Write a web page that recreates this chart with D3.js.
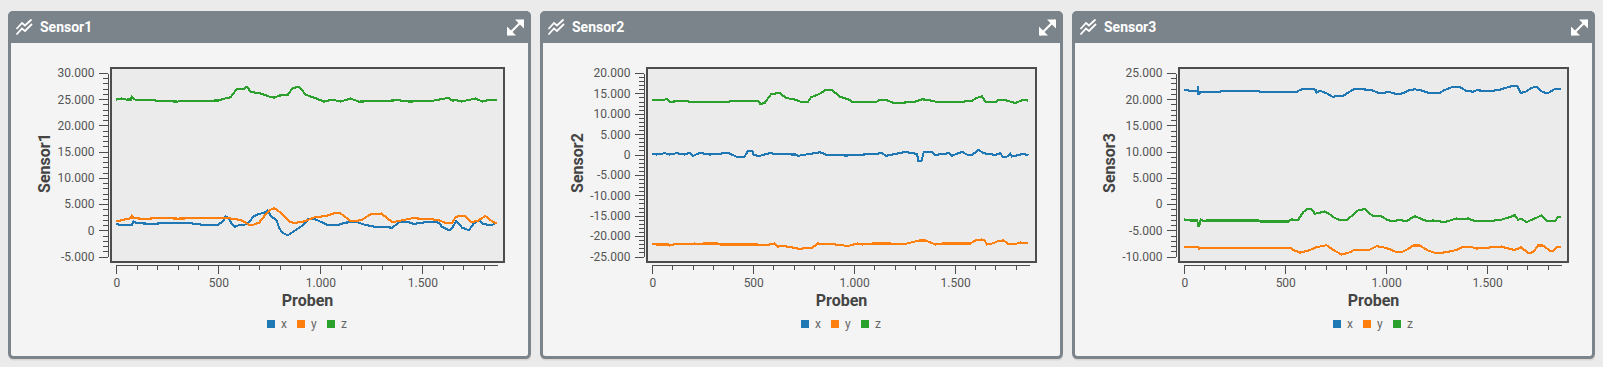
<!DOCTYPE html>
<html>
<head>
<meta charset="utf-8">
<script src="https://cdn.jsdelivr.net/npm/d3@7"></script>
<style>
    html, body { margin: 0; padding: 0; background: #ebebeb; overflow: hidden; }
    text { font-family: Roboto, sans-serif; }
</style>
</head>
<body>
<svg id="dashboard"></svg>
<script>
// values as [probe, value]
const seriesNames = ['x', 'y', 'z'];
const seriesColors = ['#1f77b4', '#ff7f0e', '#2ca02c'];

const sensor1X = [[0,1150],[25,1020],[50,1085],[75,960],[85,1720],[100,1340],[150,1275],[200,1275],[250,1470],[300,1470],[350,1400],[400,1150],[450,960],[500,1085],[525,1800],[536,2680],[550,2360],[565,1300],[580,640],[600,960],[625,960],[650,1600],[675,2680],[700,3130],[725,3320],[740,3700],[760,2680],[785,1900],[800,320],[816,-510],[840,-960],[865,-320],[890,320],[915,960],[940,2100],[962,2230],[987,1900],[1010,1470],[1036,1020],[1093,1085],[1125,1470],[1175,1600],[1215,1085],[1272,640],[1353,510],[1386,1530],[1427,1600],[1460,1210],[1524,1600],[1580,1470],[1597,640],[1630,0],[1645,320],[1665,1720],[1695,510],[1728,0],[1752,1275],[1777,1900],[1800,1150],[1842,1020],[1866,1470]];
const sensor1Y = [[0,1720],[25,1910],[60,2230],[74,2300],[75,2740],[85,2300],[150,2170],[200,2360],[300,2230],[400,2300],[500,2360],[540,2360],[590,2100],[620,1790],[650,1085],[670,1020],[700,1470],[725,2680],[750,3830],[775,4200],[800,3510],[825,2550],[850,1600],[875,1400],[925,1720],[975,2550],[1025,2680],[1075,3320],[1100,3190],[1150,1720],[1200,1915],[1250,3130],[1300,3190],[1353,1530],[1402,1915],[1451,2300],[1549,2100],[1581,1915],[1614,1400],[1647,1400],[1663,2550],[1695,2800],[1712,2680],[1736,1600],[1769,1720],[1809,2740],[1834,1915],[1858,1400],[1866,1400]];
const sensor1Z = [[0,24930],[25,25130],[50,24930],[74,24950],[75,25500],[85,25000],[100,24870],[150,24930],[175,24800],[250,24600],[300,24550],[325,24700],[500,24750],[525,25060],[560,25380],[590,26900],[625,27000],[640,27400],[660,26340],[700,26200],[750,25500],[775,25300],[800,25700],[840,25800],[865,27170],[897,27300],[930,25830],[977,25190],[1018,24550],[1058,24940],[1099,24550],[1148,25130],[1189,24550],[1270,24620],[1384,24800],[1433,24550],[1547,24680],[1628,25250],[1650,24680],[1660,24870],[1690,24550],[1761,25130],[1794,24550],[1827,24870],[1866,24930]];

const sensor2X = [[0,164],[21,0],[62,328],[87,0],[120,328],[161,0],[186,492],[202,-328],[235,410],[285,0],[375,410],[416,-492],[457,-492],[474,902],[495,902],[502,-164],[531,-328],[581,328],[630,82],[712,0],[720,-328],[831,574],[860,0],[959,-246],[1074,82],[1140,328],[1156,-328],[1255,656],[1288,328],[1312,164],[1317,-1476],[1334,-1476],[1345,656],[1383,656],[1400,-82],[1469,328],[1482,-328],[1534,656],[1559,0],[1584,-82],[1617,1148],[1641,328],[1699,-82],[1724,328],[1735,-492],[1757,-492],[1773,164],[1781,-492],[1839,164],[1863,-246]];
const sensor2Y = [[0,-21812],[21,-22058],[79,-22058],[87,-22304],[104,-22058],[211,-21812],[227,-22058],[252,-21812],[326,-21812],[337,-22058],[523,-22058],[548,-22222],[581,-22058],[605,-21812],[622,-22550],[655,-22468],[696,-22796],[729,-23124],[794,-22796],[819,-21812],[877,-21894],[942,-22222],[967,-22468],[1016,-21812],[1041,-22058],[1090,-21812],[1181,-21812],[1206,-21976],[1255,-21894],[1288,-21484],[1321,-21074],[1354,-21074],[1378,-21566],[1403,-22058],[1436,-21812],[1576,-21812],[1600,-21074],[1633,-20828],[1646,-21074],[1658,-22058],[1691,-21730],[1715,-21156],[1740,-21074],[1765,-21976],[1798,-21976],[1822,-21566],[1863,-21730]];
const sensor2Z = [[0,13450],[54,13280],[71,13700],[84,12950],[153,13120],[210,12870],[252,12800],[367,12870],[400,13200],[523,13200],[536,12380],[556,12630],[589,14840],[630,15090],[663,13860],[712,13450],[737,12870],[770,12870],[786,14020],[827,14840],[860,15900],[893,15740],[926,14270],[975,13450],[992,12800],[1107,12870],[1123,13280],[1164,13280],[1197,12630],[1296,12870],[1337,13530],[1362,13450],[1419,12800],[1510,12800],[1551,13040],[1584,13200],[1609,13940],[1633,14270],[1653,12800],[1699,12800],[1715,13450],[1748,13370],[1797,12630],[1839,13450],[1863,13200]];

const sensor3X = [[0,21760],[53,21500],[66,21500],[68,22530],[70,21000],[74,21000],[78,21370],[177,21440],[193,21630],[251,21630],[366,21630],[375,21370],[556,21370],[573,21760],[597,22010],[622,21950],[650,21820],[655,21240],[672,21630],[705,21120],[733,20480],[787,20670],[820,21440],[845,22010],[861,21880],[886,21880],[927,21760],[960,21240],[985,21120],[1010,21440],[1051,20990],[1084,21120],[1117,21760],[1142,21880],[1167,21760],[1208,21240],[1266,21240],[1290,21760],[1323,22270],[1365,22330],[1398,21560],[1431,21440],[1447,21690],[1521,21560],[1563,21820],[1596,22200],[1629,22590],[1649,22590],[1665,21240],[1686,21310],[1719,22140],[1744,22400],[1777,21310],[1802,21180],[1835,21950],[1865,21950]];
const sensor3Y = [[0,-8103],[69,-8103],[73,-8549],[86,-8294],[523,-8294],[540,-8741],[573,-9251],[614,-8868],[655,-8230],[705,-7847],[738,-8741],[779,-9634],[820,-9187],[845,-8677],[919,-8677],[952,-8039],[985,-8230],[1018,-8613],[1051,-9187],[1076,-9187],[1109,-8549],[1134,-7911],[1167,-7911],[1208,-8868],[1249,-9379],[1299,-9187],[1348,-8741],[1381,-8103],[1414,-8103],[1447,-8485],[1488,-8358],[1571,-8103],[1612,-8549],[1637,-8741],[1670,-8230],[1703,-9379],[1728,-9187],[1752,-7911],[1777,-7911],[1810,-8868],[1827,-8868],[1851,-8103],[1865,-8103]];
const sensor3Z = [[0,-2935],[28,-3126],[64,-3126],[69,-4083],[74,-4083],[81,-2935],[94,-3254],[111,-3126],[366,-3126],[375,-3318],[515,-3318],[531,-2935],[564,-2999],[589,-1531],[606,-1021],[631,-1021],[647,-1850],[696,-1404],[721,-1978],[746,-2680],[771,-3062],[804,-3062],[828,-2297],[861,-1212],[894,-957],[919,-1850],[936,-2233],[977,-2361],[1002,-2935],[1026,-3254],[1068,-3062],[1101,-3254],[1142,-2297],[1183,-2999],[1208,-3254],[1233,-3126],[1290,-3445],[1348,-2743],[1373,-2871],[1406,-2743],[1439,-3254],[1497,-3254],[1563,-3062],[1612,-2488],[1637,-2105],[1653,-2999],[1670,-2807],[1695,-3445],[1736,-2743],[1769,-2169],[1794,-3126],[1835,-3318],[1851,-2488],[1865,-2488]];

const titles = ['Sensor1', 'Sensor2', 'Sensor3'];
const sensorData = [[sensor1X, sensor1Y, sensor1Z], [sensor2X, sensor2Y, sensor2Z], [sensor3X, sensor3Y, sensor3Z]];
const yDomains = [[-5000, 30000], [-25000, 20000], [-10000, 25000]];
const xMajorTicks = [0, 500, 1000, 1500];
const xEnd = 1866;

// layout, in px relative to each panel
const panelLefts = [8, 540, 1072];
const frameLefts = [102, 106, 106];
const yLabelX = [42, 43, 43];
const panelWidth = 523;
const panelTop = 11;
const panelHeight = 348;
const headerHeight = 32;
const frameRight = 496;
const frame = { top: 68, bottom: 262 };
const yRange = [256.5, 73];
const xAxisY = 265;

const svg = d3.select('#dashboard').attr('width', 1603).attr('height', 367);
const deFormat = d3.formatLocale({ decimal: ',', thousands: '.', grouping: [3], currency: ['', ' €'], minus: '-' }).format(',d');

function styleAxis(axisGroup, showDomain) {
    axisGroup.select('.domain')
        .attr('stroke', showDomain ? '#4d4d4d' : 'none')
        .attr('shape-rendering', 'crispEdges');
    axisGroup.selectAll('.tick line')
        .attr('stroke', '#4d4d4d')
        .attr('shape-rendering', 'crispEdges');
}

titles.forEach(function (title, i) {
    const px = panelLefts[i];
    const panel = svg.append('g').attr('transform', `translate(${px}, 0)`);

    // shadow, body and header
    panel.append('rect').attr('x', 1).attr('y', panelTop + 1.5).attr('width', panelWidth - 1).attr('height', panelHeight)
        .attr('rx', 4).attr('fill', '#000').attr('opacity', 0.08);
    panel.append('rect').attr('x', 1.5).attr('y', panelTop + 1.5).attr('width', panelWidth - 3).attr('height', panelHeight - 3)
        .attr('rx', 4).attr('fill', '#f4f4f4').attr('stroke', '#7c848b').attr('stroke-width', 3);
    panel.append('path')
        .attr('d', `M0,${panelTop + headerHeight}V${panelTop + 5}a5,5 0 0 1 5,-5H${panelWidth - 5}a5,5 0 0 1 5,5V${panelTop + headerHeight}Z`)
        .attr('fill', '#7c848b');

    // chart icon
    panel.append('path')
        .attr('d', 'M8.5,34.5 L14,28.5 L17,31 L24,24 M8.5,29 L14,23 L17,25.5 L23.5,19.5')
        .attr('fill', 'none').attr('stroke', '#fff').attr('stroke-width', 1.8);
    panel.append('text').attr('x', 32).attr('y', 32).attr('fill', '#fff')
        .style('font-size', '14px').style('font-weight', 700).text(title);

    // expand icon
    panel.append('path')
        .attr('d', `M${panelWidth - 23},35 L${panelWidth - 8},20`)
        .attr('stroke', '#fff').attr('stroke-width', 2.2).attr('fill', 'none');
    panel.append('path')
        .attr('d', `M${panelWidth - 16},19.5H${panelWidth - 7}V28.5Z M${panelWidth - 24},26.5V35.5H${panelWidth - 15}Z`)
        .attr('fill', '#fff');

    const left = frameLefts[i];
    const xScale = d3.scaleLinear().domain([0, xEnd]).range([left + 6.3, frameRight - 7]);
    const yScale = d3.scaleLinear().domain(yDomains[i]).range(yRange);

    // plot area
    panel.append('rect').attr('x', left + 1).attr('y', frame.top).attr('width', frameRight - left - 1)
        .attr('height', frame.bottom - frame.top).attr('fill', '#ebebeb')
        .attr('stroke', '#4d4d4d').attr('stroke-width', 2);

    // y axis
    const yMinor = panel.append('g').attr('transform', `translate(${left - 2.5}, 0)`)
        .call(d3.axisLeft(yScale).tickValues(d3.range(yDomains[i][0], yDomains[i][1] + 1, 1000)).tickSize(5).tickSizeOuter(0).tickFormat(''));
    styleAxis(yMinor, true);
    const yMajor = panel.append('g').attr('transform', `translate(${left - 2.5}, 0)`)
        .call(d3.axisLeft(yScale).tickValues(d3.range(yDomains[i][0], yDomains[i][1] + 1, 5000)).tickSize(9).tickPadding(4).tickFormat(deFormat));
    styleAxis(yMajor, false);

    // x axis
    const xMinor = panel.append('g').attr('transform', `translate(0, ${xAxisY})`)
        .call(d3.axisBottom(xScale).tickValues(d3.range(0, xEnd, 100)).tickSize(5).tickSizeOuter(0).tickFormat(''));
    styleAxis(xMinor, true);
    const xMajor = panel.append('g').attr('transform', `translate(0, ${xAxisY})`)
        .call(d3.axisBottom(xScale).tickValues(xMajorTicks).tickSize(9).tickPadding(4).tickFormat(deFormat));
    styleAxis(xMajor, false);

    panel.selectAll('.tick text')
        .attr('fill', '#555')
        .style('font-family', 'Roboto, sans-serif')
        .style('font-size', '12px');

    // axis titles
    panel.append('text').attr('x', (left + frameRight) / 2 + 0.5).attr('y', 306)
        .attr('text-anchor', 'middle').attr('fill', '#444')
        .style('font-size', '16px').style('font-weight', 700).text('Proben');
    panel.append('text').attr('transform', `translate(${yLabelX[i]}, 163) rotate(-90)`)
        .attr('text-anchor', 'middle').attr('fill', '#444')
        .style('font-size', '16px').style('font-weight', 700).text(title);

    // lines
    const line = d3.line().x(d => xScale(d[0])).y(d => yScale(d[1]));
    panel.selectAll('.line')
        .data(sensorData[i])
        .enter().append('path')
        .attr('class', 'line')
        .attr('d', line)
        .attr('fill', 'none')
        .attr('stroke', (d, k) => seriesColors[k])
        .attr('stroke-width', 2.1)
        .attr('shape-rendering', 'crispEdges');

    // legend
    const legend = panel.selectAll('.legend')
        .data(seriesNames)
        .enter().append('g')
        .attr('class', 'legend')
        .attr('transform', (d, k) => `translate(${(i === 0 ? 259 : 261) + k * 30}, 320)`);
    legend.append('rect').attr('width', 8).attr('height', 8).attr('fill', (d, k) => seriesColors[k]);
    legend.append('text').attr('x', 14).attr('y', 8).attr('fill', '#666').style('font-size', '12px').text(d => d);
});
</script>
</body>
</html>
